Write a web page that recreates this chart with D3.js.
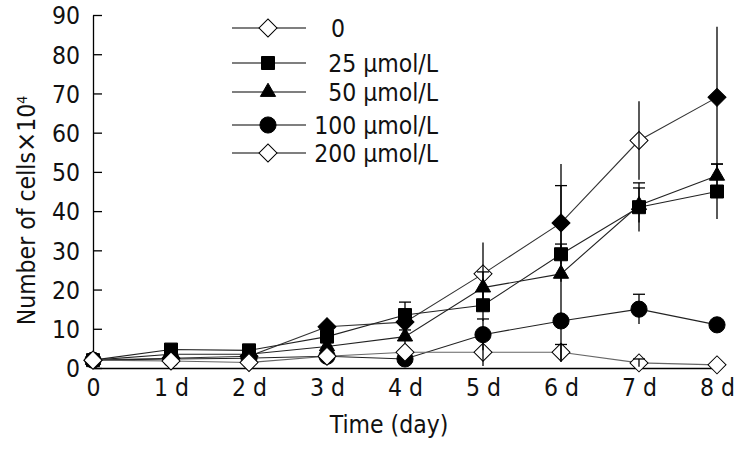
<!DOCTYPE html>
<html><head><meta charset="utf-8">
<script src="https://cdn.jsdelivr.net/npm/d3@7"></script>
<style>
html,body{margin:0;padding:0;background:#fff;}
svg text{font-family:"DejaVu Sans Condensed","DejaVu Sans",sans-serif;fill:#111;}
</style></head>
<body>
<svg id="chart" width="742" height="450"></svg>
<script>
const days = [0, 1, 2, 3, 4, 5, 6, 7, 8];
const dayLabels = ["0", "1 d", "2 d", "3 d", "4 d", "5 d", "6 d", "7 d", "8 d"];
const yTicks = [0, 10, 20, 30, 40, 50, 60, 70, 80, 90];
const seriesNames = ["0", "25 \u03bcmol/L", "50 \u03bcmol/L", "100 \u03bcmol/L", "200 \u03bcmol/L"];
const ctrlValues = [2, 2.5, 3, 10.5, 11.7, 24, 37, 58, 69];
const ctrlErr    = [0, 0, 0, 0, 0, 8, 15, 10, 18];
const c25Values  = [2, 4.7, 4.5, 8, 13.5, 16, 29, 41, 45];
const c25Err     = [0, 0, 0, 0, 3.3, 4, 2.6, 6.2, 7];
const c50Values  = [2, 3.5, 3.5, 5.5, 8, 20.5, 24, 41.5, 49];
const c50Err     = [0, 0, 0, 0, 1.7, 4, 22.5, 4.4, 3];
const c100Values = [2, 2.3, 2.5, 3, 2.3, 8.5, 12, 15, 11];
const c100Err    = [0, 0, 0, 0, 0, 4, 0, 3.8, 0];
const c200Values = [2, 1.8, 1.4, 3, 4, 4, 4, 1.3, 0.8];
const c200Err    = [0, 0, 0, 0, 0, 3.5, 2, 1, 0];
// control marker: open (true) or filled at each day, as drawn in the figure
const ctrlOpen = [false, false, false, false, false, true, false, true, false];

const FS = "24.5px";
const svg = d3.select("#chart");
const x = d3.scaleLinear().domain([0, 8]).range([93, 717]);
const y = d3.scaleLinear().domain([0, 90]).range([368, 15]);

const diamond = d3.symbol().type(d3.symbolSquare).size(162);
const square = d3.symbol().type(d3.symbolSquare).size(169);
const triangle = d3.symbol().type(d3.symbolTriangle).size(100);
const circle = d3.symbol().type(d3.symbolCircle).size(205);

const series = [
  {name: seriesNames[0], values: ctrlValues, err: ctrlErr, sym: diamond, rot: 45, open: ctrlOpen, legendOpen: true, line: "#333", cap: 0},
  {name: seriesNames[1], values: c25Values, err: c25Err, sym: square, rot: 0, open: null, legendOpen: false, line: "#222", cap: 12},
  {name: seriesNames[2], values: c50Values, err: c50Err, sym: triangle, rot: 0, open: null, legendOpen: false, line: "#222", cap: 12},
  {name: seriesNames[3], values: c100Values, err: c100Err, sym: circle, rot: 0, open: null, legendOpen: false, line: "#222", cap: 12},
  {name: seriesNames[4], values: c200Values, err: c200Err, sym: diamond, rot: 45, open: days.map(() => true), legendOpen: true, line: "#666", cap: 12}
];

// axes
const yAxis = d3.axisLeft(y).tickValues(yTicks).tickSizeInner(-9).tickSizeOuter(0).tickPadding(13);
const gy = svg.append("g").attr("transform", `translate(${x(0)},0)`).call(yAxis);
gy.selectAll("text").style("font-size", FS).attr("dy", "0.36em");
gy.selectAll("path,line").attr("stroke", "#000").attr("stroke-width", 1.3);

const xAxis = d3.axisBottom(x).tickValues(days).tickFormat((d, i) => dayLabels[i]).tickSize(0).tickSizeOuter(0).tickPadding(11);
const gx = svg.append("g").attr("transform", `translate(0,${y(0)})`).call(xAxis);
gx.selectAll("text").style("font-size", FS);
gx.selectAll("path,line").attr("stroke", "#000").attr("stroke-width", 1.3);

svg.append("text").attr("x", 389).attr("y", 433)
  .attr("text-anchor", "middle").style("font-size", FS).text("Time (day)");

const yl = svg.append("text").attr("transform", `translate(35,${(y(0)+y(90))/2 + 19}) rotate(-90)`)
  .attr("text-anchor", "middle").style("font-size", FS);
yl.append("tspan").text("Number of cells");
yl.append("tspan").style("font-size", "27px").style("font-weight", "200").text("\u00d7");
yl.append("tspan").text("10");
yl.append("tspan").attr("dy", "-0.55em").style("font-size", "14px").text("4");

// lines
const line = d3.line().x((d, i) => x(days[i])).y(d => y(d));
series.forEach(s => {
  svg.append("path").attr("d", line(s.values)).attr("fill", "none")
    .attr("stroke", s.line).attr("stroke-width", 1.1);
});

// markers
series.forEach(s => {
  svg.append("g").selectAll("path").data(s.values).join("path")
    .attr("d", s.sym)
    .attr("transform", (d, i) => `translate(${x(days[i])},${y(d)}) rotate(${s.rot})`)
    .attr("fill", (d, i) => s.open && s.open[i] ? "#fff" : "#000")
    .attr("stroke", "#000").attr("stroke-width", 1);
});

// error bars
series.forEach(s => {
  const g = svg.append("g").attr("stroke", "#000").attr("stroke-width", 1.3);
  s.values.forEach((v, i) => {
    const e = s.err[i];
    if (!e) return;
    const cx = x(days[i]);
    g.append("line").attr("x1", cx).attr("x2", cx).attr("y1", y(v + e)).attr("y2", y(Math.max(0, v - e)));
    if (s.cap) {
      g.append("line").attr("x1", cx - s.cap / 2).attr("x2", cx + s.cap / 2).attr("y1", y(v + e)).attr("y2", y(v + e));
    }
  });
});

// legend
const legendY = [28, 63, 92, 125, 153];
series.forEach((s, i) => {
  const g = svg.append("g");
  g.append("line").attr("x1", 232).attr("x2", 306).attr("y1", legendY[i]).attr("y2", legendY[i])
    .attr("stroke", "#000").attr("stroke-width", 1.1);
  g.append("path").attr("d", s.sym)
    .attr("transform", `translate(268,${legendY[i]}) rotate(${s.rot})`)
    .attr("fill", s.legendOpen ? "#fff" : "#000").attr("stroke", "#000");
  const t = g.append("text").attr("y", legendY[i]).attr("dy", "0.36em").style("font-size", FS).text(s.name);
  if (i === 0) t.attr("x", 331).attr("text-anchor", "start");
  else t.attr("x", 438).attr("text-anchor", "end");
});
</script>
</body></html>
